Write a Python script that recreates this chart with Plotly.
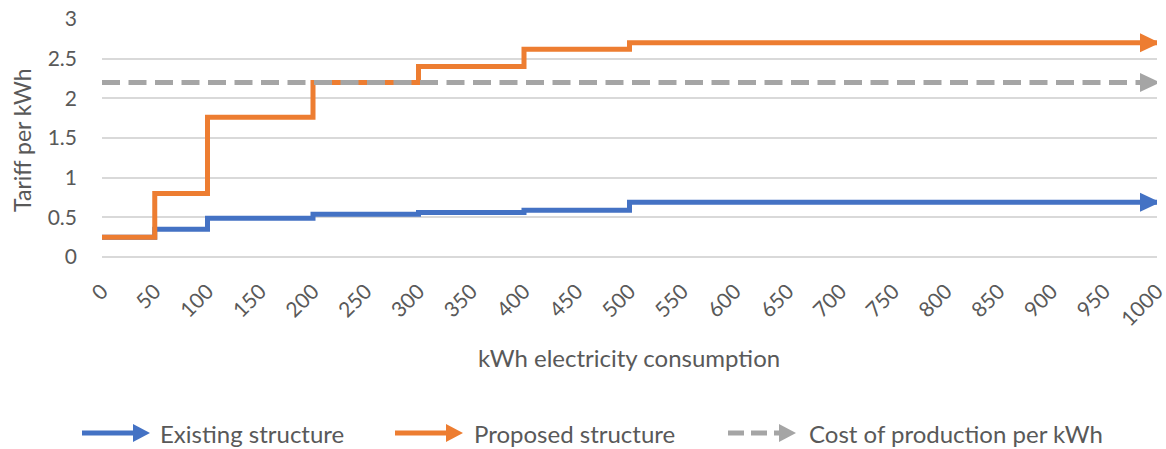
import plotly.graph_objects as go

# Consumption bands (kWh) and tariff per kWh at each band
kwh = [0, 50, 100, 150, 200, 250, 300, 350, 400, 450, 500,
       550, 600, 650, 700, 750, 800, 850, 900, 950, 1000]
existing = [0.25, 0.35, 0.49, 0.49, 0.54, 0.54, 0.56, 0.56, 0.59, 0.59, 0.69,
            0.69, 0.69, 0.69, 0.69, 0.69, 0.69, 0.69, 0.69, 0.69, 0.69]
proposed = [0.25, 0.8, 1.76, 1.76, 2.2, 2.2, 2.4, 2.4, 2.62, 2.62, 2.7,
            2.7, 2.7, 2.7, 2.7, 2.7, 2.7, 2.7, 2.7, 2.7, 2.7]
cost = [2.2, 2.2, 2.2, 2.2, 2.2, 2.2, 2.2, 2.2, 2.2, 2.2, 2.2,
        2.2, 2.2, 2.2, 2.2, 2.2, 2.2, 2.2, 2.2, 2.2, 2.2]
x_labels = [str(v) for v in kwh]
y_ticks = [0, 0.5, 1, 1.5, 2, 2.5, 3]

names = ["Existing structure", "Proposed structure", "Cost of production per kWh"]
colors = ["#4472C4", "#ED7D31", "#A5A5A5"]
dashes = ["solid", "solid", "18px,8.5px"]

W, H = 1166, 449
L, R, T, B = 102, 9, 19, 192
PW, PH = W - L - R, H - T - B
FONT = "Lato"
GREY = "#595959"


def fx(px):
    return (px - L) / PW


def fy(py):
    return (H - B - py) / PH


# arrowhead outline in pixels, tip pointing right
HEAD = "M 3,0 L -17,-9.5 L -17,9.5 Z"

fig = go.Figure()
shapes = []
for name, vals, col, dash in zip(names, [existing, proposed, cost], colors, dashes):
    fig.add_trace(go.Scatter(
        x=kwh, y=vals, name=name, mode="lines",
        line=dict(color=col, width=5, shape="hv", dash=dash),
        cliponaxis=False, showlegend=False, hoverinfo="skip",
    ))
    # arrowhead at the end of each series
    shapes.append(dict(type="path", xref="x", yref="y",
                       xsizemode="pixel", ysizemode="pixel",
                       xanchor=kwh[-1], yanchor=vals[-1], path=HEAD,
                       fillcolor=col, line=dict(width=0), layer="above"))

annotations = [
    dict(text="Tariff per kWh", x=fx(22), y=fy(140), xref="paper", yref="paper",
         textangle=-90, showarrow=False, xanchor="center", yanchor="middle",
         font=dict(family=FONT, size=23, color=GREY)),
    dict(text="kWh electricity consumption", x=fx(629), y=fy(357),
         xref="paper", yref="paper", showarrow=False,
         xanchor="center", yanchor="middle",
         font=dict(family=FONT, size=24, color=GREY)),
]

# Custom legend: arrow glyph followed by label
legend_items = [(82, 158), (395, 472), (728, 807)]
ly = 433
for (x0, tx), name, col, dash in zip(legend_items, names, colors, dashes):
    tip = x0 + 68
    base = tip - 17
    shapes.append(dict(type="line", xref="paper", yref="paper",
                       x0=fx(x0), x1=fx(base + 2), y0=fy(ly), y1=fy(ly),
                       line=dict(color=col, width=5,
                                 dash="16px,7px" if dash != "solid" else "solid")))
    shapes.append(dict(type="path", xref="paper", yref="paper",
                       path=f"M {fx(base)},{fy(ly - 9)} L {fx(tip)},{fy(ly)} "
                            f"L {fx(base)},{fy(ly + 9)} Z",
                       fillcolor=col, line=dict(width=0)))
    annotations.append(dict(text=name, x=fx(tx), y=fy(ly), xref="paper",
                            yref="paper", showarrow=False, xanchor="left",
                            yanchor="middle",
                            font=dict(family=FONT, size=24, color=GREY)))

fig.update_layout(
    width=W, height=H,
    margin=dict(l=L, r=R, t=T, b=B, autoexpand=False),
    paper_bgcolor="white", plot_bgcolor="white",
    showlegend=False,
    annotations=annotations, shapes=shapes,
    xaxis=dict(range=[0, 1000], tickmode="array", tickvals=kwh, ticktext=x_labels,
               tickangle=-45, showgrid=False, zeroline=False, showline=False,
               ticks="", ticklabelstandoff=17, ticklabeloverflow="allow",
               tickfont=dict(family=FONT, size=21, color=GREY)),
    yaxis=dict(range=[0, 3], tickmode="array", tickvals=y_ticks,
               ticktext=[f"{v:g}" for v in y_ticks],
               showgrid=True, gridcolor="#D9D9D9", gridwidth=1.6,
               zeroline=True, zerolinecolor="#D9D9D9", zerolinewidth=1.6,
               showline=False, ticks="", ticklabelstandoff=24,
               tickfont=dict(family=FONT, size=21, color=GREY)),
)

fig.write_html("out.html")
